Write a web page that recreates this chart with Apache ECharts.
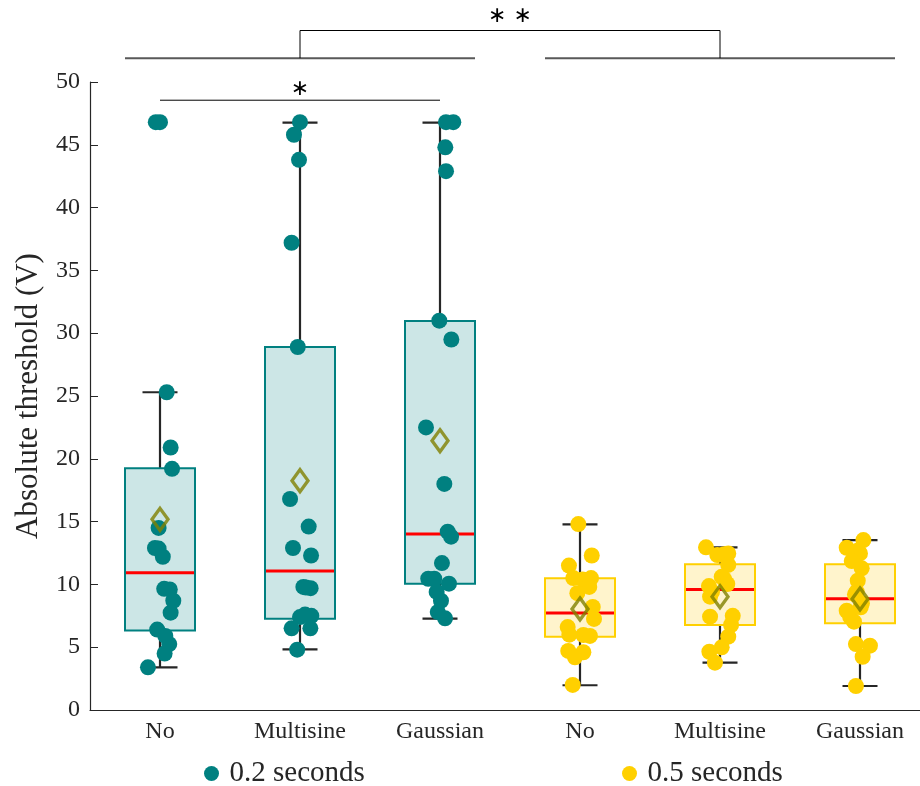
<!DOCTYPE html>
<html>
<head>
<meta charset="utf-8">
<script src="https://cdn.jsdelivr.net/npm/echarts@6/dist/echarts.min.js"></script>
<style>
html,body{margin:0;padding:0;background:#fff;}
#chart{width:920px;height:786px;}
</style>
</head>
<body>
<div id="chart"></div>
<script>
// ---------- data ----------
const categories = ['No', 'Multisine', 'Gaussian', 'No', 'Multisine', 'Gaussian'];
const seriesNames = ['0.2 seconds', '0.5 seconds'];
const yMin = 0, yMax = 50, yStep = 5;

// individual thresholds (V) and horizontal jitter (category units) per group
const no02Vals  = [46.8, 46.8, 25.3, 20.9, 19.2, 14.5, 12.9, 12.85, 12.2, 9.65, 9.6, 8.7, 7.75, 6.4, 5.9, 5.25, 4.5, 3.4];
const no02Jit   = [-0.03, 0, 0.048, 0.076, 0.086, -0.01, -0.036, -0.01, 0.02, 0.03, 0.07, 0.095, 0.076, -0.02, 0.038, 0.066, 0.033, -0.086];
const ms02Vals  = [46.8, 45.8, 43.8, 37.2, 28.9, 16.8, 14.6, 12.9, 12.3, 9.8, 9.7, 9.75, 7.4, 7.5, 7.6, 6.5, 6.5, 4.8];
const ms02Jit   = [0, -0.043, -0.007, -0.06, -0.016, -0.071, 0.062, -0.05, 0.079, 0.024, 0.076, 0.043, 0, 0.081, 0.036, -0.06, 0.074, -0.02];
const ga02Vals  = [46.8, 46.8, 44.8, 42.9, 31.0, 29.5, 22.5, 18.0, 14.2, 13.8, 11.7, 10.45, 10.45, 10.06, 9.4, 8.7, 7.8, 7.3];
const ga02Jit   = [0.043, 0.095, 0.038, 0.043, -0.005, 0.081, -0.1, 0.031, 0.055, 0.079, 0.014, -0.084, -0.041, 0.064, -0.024, 0.007, -0.016, 0.036];
const no05Vals  = [14.8, 12.3, 11.5, 10.5, 10.4, 10.5, 9.8, 9.3, 8.2, 7.25, 6.6, 6.0, 5.97, 5.9, 4.7, 4.6, 4.2, 2.0];
const no05Jit   = [-0.012, 0.084, -0.079, -0.048, 0.019, 0.079, 0.066, -0.019, 0.091, 0.1, -0.088, -0.076, 0.024, 0.071, -0.084, 0.024, -0.036, -0.052];
const ms05Vals  = [12.95, 12.34, 12.47, 12.4, 11.55, 10.6, 10.43, 10.03, 9.87, 9.4, 9.02, 7.5, 7.43, 6.77, 5.84, 4.99, 4.64, 3.77];
const ms05Jit   = [-0.1, -0.019, 0.059, 0.03, 0.059, 0.012, 0.029, 0.052, -0.079, -0.057, -0.071, 0.091, -0.071, 0.079, 0.059, 0.012, -0.076, -0.036];
const ga05Vals  = [13.53, 12.92, 12.47, 12.7, 11.86, 11.28, 10.3, 9.42, 9.2, 8.5, 8.18, 7.9, 7.4, 7.03, 5.25, 5.12, 4.24, 1.91];
const ga05Jit   = [0.024, -0.095, 0, -0.014, -0.059, 0.012, -0.016, -0.024, -0.036, 0.014, 0.005, -0.095, -0.07, -0.043, -0.029, 0.071, 0.019, -0.029];

// box statistics: [lower whisker, Q1, median, Q3, upper whisker]
const box02 = [[3.4, 6.32, 10.93, 19.24, 25.3], [4.83, 7.27, 11.07, 28.9, 46.76], [7.27, 10.06, 14.01, 30.97, 46.76]];
const box05 = [[1.97, 5.84, 7.72, 10.48, 14.78], [3.77, 6.77, 9.6, 11.6, 12.95], [1.91, 6.9, 8.86, 11.6, 13.53]];
const means02 = [15.18, 18.26, 21.44];
const means05 = [8.04, 9.02, 8.84];
const outlierGroup = [1];
const outlierVals = [46.8];

// significance annotations
const groupSpans = [[0.75, 3.25], [3.75, 6.25]];
const groupLineLevel = 51.9;
const bracketEnds = [2, 5];
const bracketLevel = 54.1;
const pairSpan = [1, 3];
const pairLevel = 48.55;
const starTexts = ['\u2217 \u2217', '\u2217'];
const starPos = [[3.5, 55.2], [2, 49.4]];

// ---------- build ----------
const FONT = 'Liberation Serif';
const TXT = '#262626';
const vals02 = [no02Vals, ms02Vals, ga02Vals], jit02 = [no02Jit, ms02Jit, ga02Jit];
const vals05 = [no05Vals, ms05Vals, ga05Vals], jit05 = [no05Jit, ms05Jit, ga05Jit];

function pts(vals, jits, offset) {
  const out = [];
  vals.forEach((arr, g) => arr.forEach((v, i) => out.push([offset + g + 1 + jits[g][i], v])));
  return out;
}
const boxData = [];
box02.forEach((b, g) => boxData.push([g + 1].concat(b, [0])));
box05.forEach((b, g) => boxData.push([g + 4].concat(b, [1])));
const meanData = means02.map((m, g) => [g + 1, m]).concat(means05.map((m, g) => [g + 4, m]));
const outlierData = outlierGroup.map((g, i) => [g, outlierVals[i]]);

function boxRender(params, api) {
  const x = api.value(0), set = api.value(6);
  const st = set === 0 ? { fill: '#cce6e6', stroke: '#008080' } : { fill: '#fff4cc', stroke: '#ffd000' };
  const half = api.size([0.25, 0])[0], capHalf = api.size([0.125, 0])[0];
  const c = v => api.coord([x, v]);
  const pLo = c(api.value(1)), pQ1 = c(api.value(2)), pMd = c(api.value(3)), pQ3 = c(api.value(4)), pHi = c(api.value(5));
  const cx = pMd[0];
  const wh = { stroke: '#262626', lineWidth: 2.2 };
  return {
    type: 'group', children: [
      { type: 'line', shape: { x1: cx, y1: pHi[1], x2: cx, y2: pLo[1] }, style: wh },
      { type: 'line', shape: { x1: cx - capHalf, y1: pHi[1], x2: cx + capHalf, y2: pHi[1] }, style: wh },
      { type: 'line', shape: { x1: cx - capHalf, y1: pLo[1], x2: cx + capHalf, y2: pLo[1] }, style: wh },
      { type: 'rect', shape: { x: cx - half, y: pQ3[1], width: 2 * half, height: pQ1[1] - pQ3[1] }, style: { fill: st.fill, stroke: st.stroke, lineWidth: 2 } },
      { type: 'line', shape: { x1: cx - half + 1, y1: pMd[1], x2: cx + half - 1, y2: pMd[1] }, style: { stroke: '#ff0000', lineWidth: 3 } }
    ]
  };
}

function sigRender(params, api) {
  const ch = [];
  const thick = { stroke: '#595959', lineWidth: 2 };
  const thin = { stroke: '#000', lineWidth: 1 };
  groupSpans.forEach(s => {
    const a = api.coord([s[0], groupLineLevel]), b = api.coord([s[1], groupLineLevel]);
    ch.push({ type: 'line', shape: { x1: a[0], y1: a[1], x2: b[0], y2: b[1] }, style: thick });
  });
  bracketEnds.forEach(x => {
    const a = api.coord([x, groupLineLevel]), b = api.coord([x, bracketLevel]);
    ch.push({ type: 'line', shape: { x1: a[0], y1: a[1], x2: b[0], y2: b[1] }, style: thin });
  });
  const t1 = api.coord([bracketEnds[0], bracketLevel]), t2 = api.coord([bracketEnds[1], bracketLevel]);
  ch.push({ type: 'line', shape: { x1: t1[0], y1: t1[1], x2: t2[0], y2: t2[1] }, style: thin });
  const p1 = api.coord([pairSpan[0], pairLevel]), p2 = api.coord([pairSpan[1], pairLevel]);
  ch.push({ type: 'line', shape: { x1: p1[0], y1: p1[1], x2: p2[0], y2: p2[1] }, style: thin });
  starTexts.forEach((t, i) => {
    const p = api.coord(starPos[i]);
    ch.push({ type: 'text', x: p[0], y: p[1], style: { text: t, fill: '#000', font: '22px "DejaVu Sans"', align: 'center', verticalAlign: 'middle' } });
  });
  return { type: 'group', children: ch };
}

const chart = echarts.init(document.getElementById('chart'), null, { renderer: 'canvas' });
chart.setOption({
  animation: false,
  backgroundColor: '#fff',
  grid: { left: 90, top: 82, width: 840, height: 628, containLabel: false, outerBoundsMode: 'none' },
  legend: [
    { data: [seriesNames[0]], left: 199, top: 754, icon: 'circle', itemWidth: 26, itemHeight: 15,
      textStyle: { fontFamily: FONT, fontSize: 29, color: TXT } },
    { data: [seriesNames[1]], left: 617, top: 754, icon: 'circle', itemWidth: 26, itemHeight: 15,
      textStyle: { fontFamily: FONT, fontSize: 29, color: TXT } }
  ],
  xAxis: [
    { type: 'category', data: categories, boundaryGap: true,
      axisLine: { lineStyle: { color: TXT, width: 1.2 } },
      axisTick: { inside: true, alignWithLabel: true, length: 7, lineStyle: { color: TXT } },
      axisLabel: { fontFamily: FONT, fontSize: 24, color: TXT, margin: 10 },
      splitLine: { show: false } },
    { type: 'value', min: 0.5, max: 6.5, show: false, splitLine: { show: false } }
  ],
  yAxis: {
    type: 'value', min: yMin, max: yMax, interval: yStep,
    name: 'Absolute threshold (V)', nameLocation: 'middle', nameGap: 46, nameRotate: 90,
    nameTextStyle: { fontFamily: FONT, fontSize: 31, color: TXT },
    axisLine: { show: true, lineStyle: { color: TXT, width: 1.2 } },
    axisTick: { show: true, inside: true, length: 8, lineStyle: { color: TXT } },
    axisLabel: { fontFamily: FONT, fontSize: 24, color: TXT, margin: 10 },
    splitLine: { show: false }
  },
  series: [
    { type: 'custom', name: 'boxes', xAxisIndex: 1, renderItem: boxRender, data: boxData, z: 1, silent: true },
    { type: 'scatter', name: 'outliers', xAxisIndex: 1, data: outlierData, z: 2,
      symbol: 'path://M4.3,0h1.4v10h-1.4zM0,4.3h10v1.4h-10z', symbolSize: 14, itemStyle: { color: '#ff0000' } },
    { type: 'scatter', name: seriesNames[0], xAxisIndex: 1, data: pts(vals02, jit02, 0), z: 3,
      symbol: 'circle', symbolSize: 16, itemStyle: { color: '#008080', opacity: 1 } },
    { type: 'scatter', name: seriesNames[1], xAxisIndex: 1, data: pts(vals05, jit05, 3), z: 3,
      symbol: 'circle', symbolSize: 16, itemStyle: { color: '#ffd000', opacity: 1 } },
    { type: 'scatter', name: 'mean', xAxisIndex: 1, data: meanData, z: 4,
      symbol: 'diamond', symbolSize: [16, 22],
      itemStyle: { color: 'rgba(0,0,0,0)', borderColor: '#808000', borderWidth: 3.4 } },
    { type: 'custom', name: 'significance', xAxisIndex: 1, renderItem: sigRender, data: [[0]], clip: false, z: 5, silent: true }
  ]
});
</script>
</body>
</html>
